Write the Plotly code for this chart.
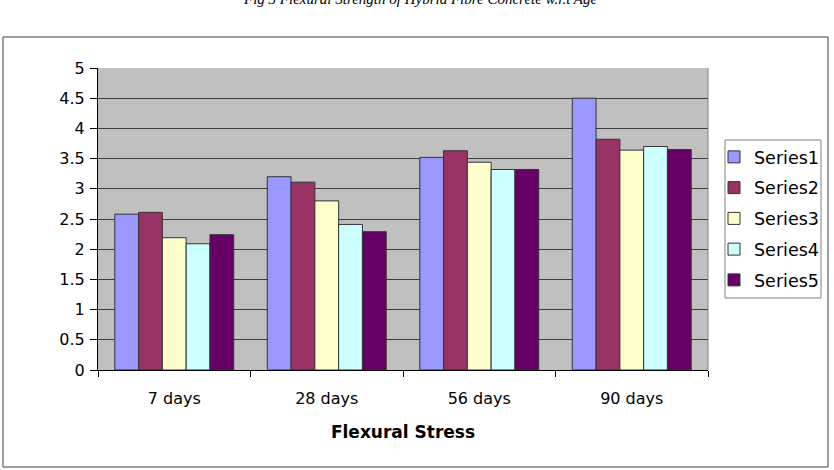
import plotly.graph_objects as go

categories = ["7 days", "28 days", "56 days", "90 days"]
series_names = ["Series1", "Series2", "Series3", "Series4", "Series5"]
series1 = [2.58, 3.20, 3.52, 4.50]
series2 = [2.61, 3.11, 3.63, 3.82]
series3 = [2.19, 2.80, 3.44, 3.64]
series4 = [2.09, 2.41, 3.32, 3.70]
series5 = [2.24, 2.29, 3.32, 3.65]
colors = ["#9999FF", "#993366", "#FFFFCC", "#CCFFFF", "#660066"]
y_ticks = [0, 0.5, 1, 1.5, 2, 2.5, 3, 3.5, 4, 4.5, 5]
y_tick_text = ["0", "0.5", "1", "1.5", "2", "2.5", "3", "3.5", "4", "4.5", "5"]

all_series = [series1, series2, series3, series4, series5]

fig = go.Figure()
for name, vals, col in zip(series_names, all_series, colors):
    fig.add_trace(go.Bar(
        x=categories, y=vals, name=name, legendgroup=name,
        marker=dict(color=col, line=dict(color="#333333", width=1)),
    ))

W, H = 834, 470
L, R, T, B = 98, 708, 68, 370
pw, ph = R - L, B - T

def px(x):
    return (x - L) / pw

def py(y):
    return (B - y) / ph

fig.update_layout(
    width=W, height=H,
    margin=dict(l=L, r=W - R, t=T, b=H - B, autoexpand=False),
    paper_bgcolor="white",
    plot_bgcolor="#C0C0C0",
    barmode="group",
    bargap=0.22,
    bargroupgap=0,
    font=dict(family="DejaVu Sans", size=16, color="black"),
    showlegend=True,
    legend=dict(
        x=px(714), y=py(139), xanchor="left", yanchor="top",
        borderwidth=0, bgcolor="rgba(0,0,0,0)",
        font=dict(family="DejaVu Sans", size=17.5, color="black"),
        tracegroupgap=5,
        itemwidth=30,
    ),
    xaxis=dict(
        showline=True, linecolor="black", linewidth=1,
        ticks="outside", tickson="boundaries", ticklen=6, tickcolor="black",
        ticklabelstandoff=14,
        showgrid=False,
        tickfont=dict(family="DejaVu Sans", size=16),
        title=dict(text="<b>Flexural Stress</b>",
                   font=dict(family="DejaVu Sans", size=17),
                   standoff=18),
    ),
    yaxis=dict(
        range=[0, 5], tickvals=y_ticks, ticktext=y_tick_text,
        showline=True, linecolor="black", linewidth=1,
        ticks="outside", ticklen=7, tickcolor="black",
        ticklabelstandoff=2,
        showgrid=True, gridcolor="#3c3c3c", gridwidth=1,
        zeroline=False,
        tickfont=dict(family="DejaVu Sans", size=16),
    ),
    shapes=[
        dict(type="rect", xref="paper", yref="paper",
             x0=px(3), x1=px(828), y0=py(467), y1=py(37),
             line=dict(color="#404040", width=1), layer="below"),
        dict(type="rect", xref="paper", yref="paper",
             x0=px(725), x1=px(821), y0=py(298), y1=py(140),
             line=dict(color="#808080", width=1), fillcolor="white", layer="below"),
        dict(type="line", xref="paper", yref="paper",
             x0=1, x1=1, y0=0, y1=1,
             line=dict(color="#808080", width=1), layer="above"),
    ],
    annotations=[
        dict(text="<i>Fig 3 Flexural Strength of Hybrid Fibre Concrete w.r.t Age</i>",
             xref="paper", yref="paper", x=px(420), y=py(9),
             xanchor="center", yanchor="bottom", showarrow=False,
             font=dict(family="Liberation Serif", size=15, color="black")),
    ],
)

fig.write_html("out.html")
